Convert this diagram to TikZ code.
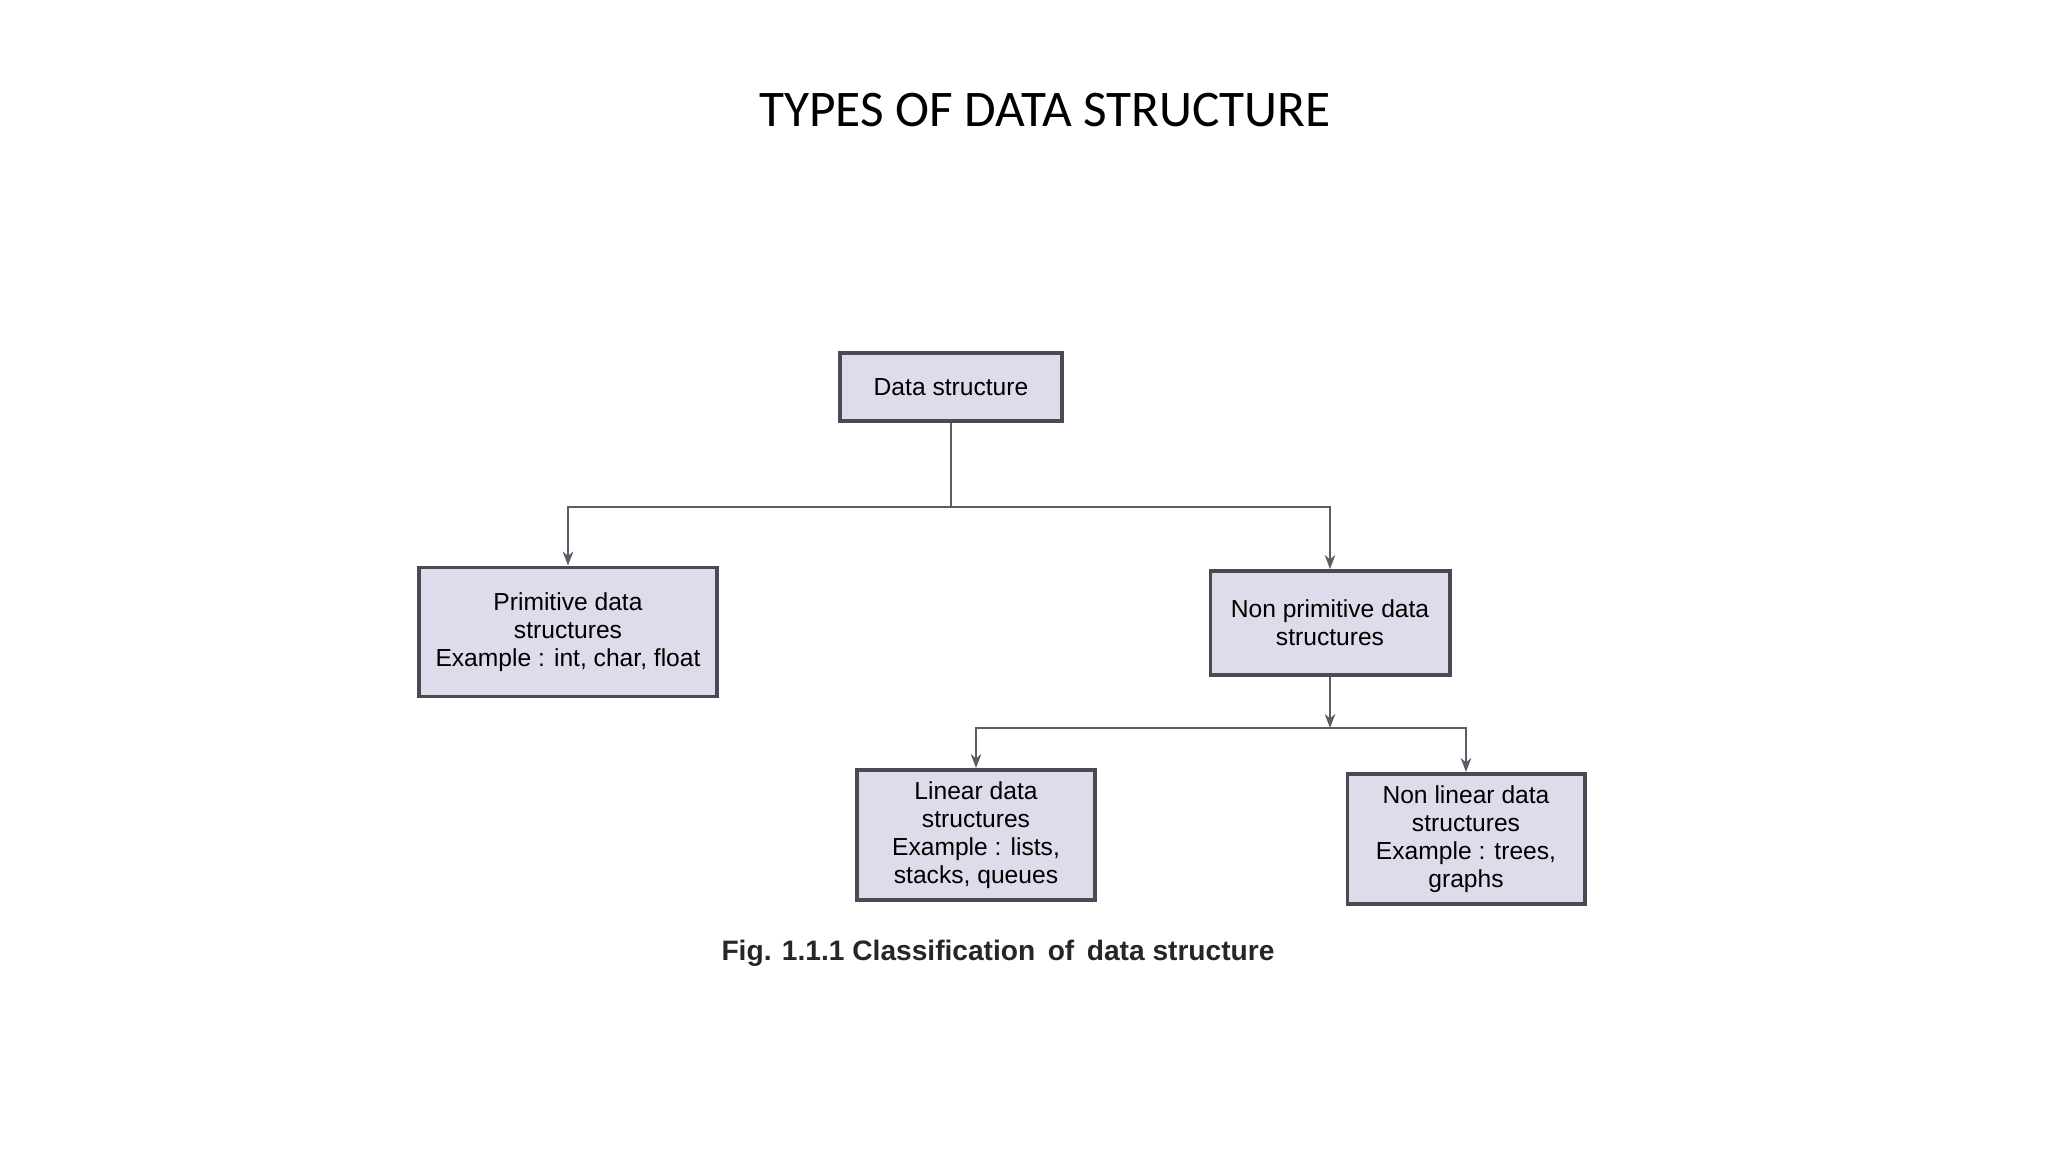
\documentclass[tikz,border=0pt]{standalone}
\usepackage{fontspec}
\setmainfont{Liberation Sans}
\newfontfamily\titlefont{Carlito}
\usetikzlibrary{arrows.meta}
\definecolor{boxfill}{HTML}{DCDCEA}
\definecolor{boxline}{HTML}{4A4A55}
\tikzset{
 dsbox/.style={draw=boxline,line width=1.1pt,fill=boxfill,align=center,font=\fontsize{7}{8}\selectfont,inner sep=0pt},
 conn/.style={draw=boxline!90,line width=0.5pt},
 arr/.style={conn,-{Stealth[length=4pt,width=3pt]}}
}
\begin{document}
\begin{tikzpicture}[x=0.01cm,y=-0.01cm]
\useasboundingbox (0,0) rectangle (2048,1152);
\node[font=\titlefont\fontsize{14.6}{18}\selectfont] (title) at (1045,110) {TYPES OF DATA STRUCTURE};
\node[dsbox,minimum width=2.22cm,minimum height=0.68cm] (ds) at (951,387) {Data structure};
\node[dsbox,minimum width=2.98cm,minimum height=1.29cm] (prim) at (568,632) {Primitive data\\structures\\Example : int, char, float};
\node[dsbox,minimum width=2.39cm,minimum height=1.04cm] (nonprim) at (1330,623) {Non primitive data\\structures};
\node[dsbox,minimum width=2.38cm,minimum height=1.30cm] (lin) at (976,835) {Linear data\\structures\\Example : lists,\\stacks, queues};
\node[dsbox,minimum width=2.37cm,minimum height=1.30cm] (nonlin) at (1466,839) {Non linear data\\structures\\Example : trees,\\graphs};
\coordinate (b1) at (951,507);
\coordinate (b2) at (1330,728);
\draw[conn] (ds.south) -- (b1);
\draw[arr] (b1) -| (prim.north);
\draw[arr] (b1) -| (nonprim.north);
\draw[arr] (nonprim.south) -- (b2);
\draw[arr] (b2) -| (lin.north);
\draw[arr] (b2) -| (nonlin.north);
\node[font=\bfseries\fontsize{8}{10}\selectfont,text=black!85] (cap) at (998,953) {Fig. 1.1.1 Classification\, of\, data structure};
\end{tikzpicture}
\end{document}
